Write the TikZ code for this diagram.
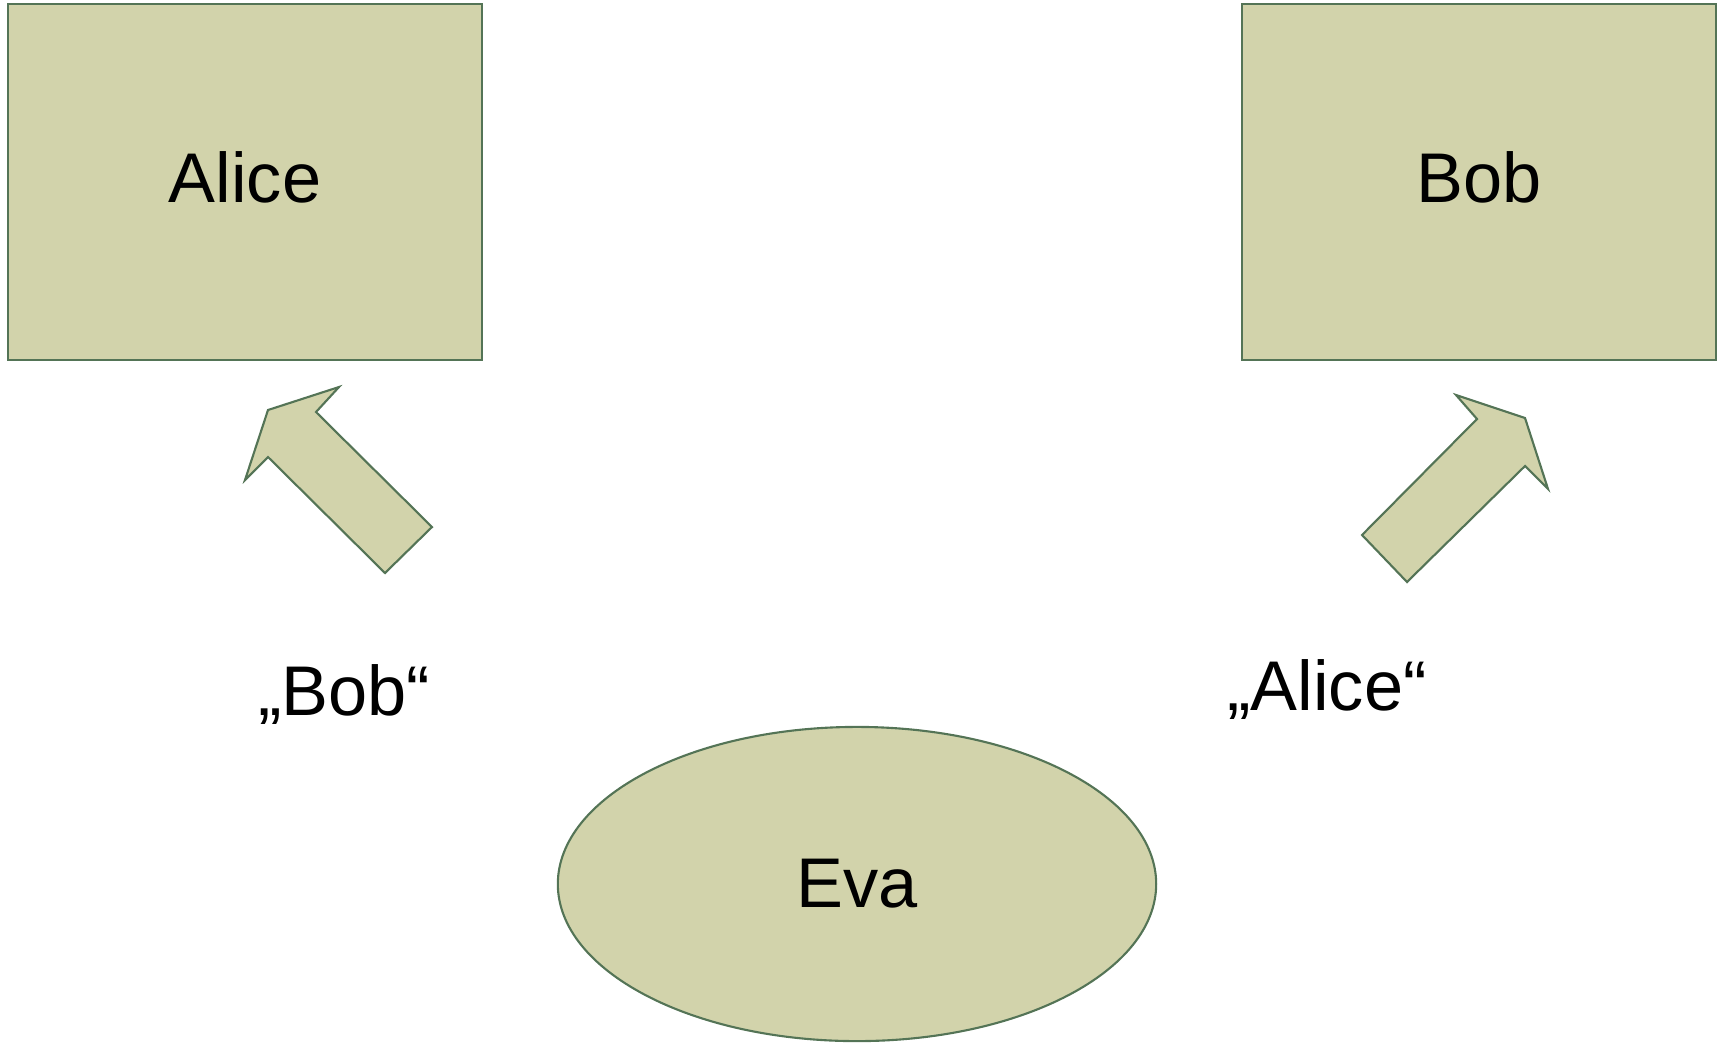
\documentclass[tikz,border=0pt]{standalone}
\usepackage{fontspec}
\setmainfont{Liberation Sans}
\usetikzlibrary{shapes.geometric}
\definecolor{olivefill}{RGB}{210,211,171}
\definecolor{olivedraw}{RGB}{84,116,86}
\begin{document}
\begin{tikzpicture}[x=0.01cm, y=-0.01cm,
    party/.style = {draw=olivedraw, fill=olivefill, line width=0.6pt, minimum width=4.74cm, minimum height=3.55cm, text depth=0.09cm},
    spy/.style = {draw=olivedraw, fill=olivefill, line width=0.6pt, ellipse, minimum width=5.98cm, minimum height=3.14cm},
    blockarrow/.style = {draw=olivedraw, fill=olivefill, line width=0.6pt, line join=miter},
    big/.style = {font=\fontsize{20}{24}\selectfont}]
    \useasboundingbox (0,0) rectangle (1719,1042);
    % Nodes
    \node[party, big] (alice) at (245,182) {Alice};
    \node[party, big] (bob) at (1479,182) {Bob};
    \node[spy, big] (eva) at (857,884) {Eva};
    \node[big] (fakebob) at (344,694) {„Bob“};
    \node[big] (fakealice) at (1327,689) {„Alice“};

    % Block arrows
    \draw[blockarrow] (385,573) -- (432,527) -- (316,412) -- (339,387) -- (268,410)
        -- (245,480) -- (268,457) -- cycle;
    \draw[blockarrow] (1362,535) -- (1407,582) -- (1525,466) -- (1548,489) -- (1525,418)
        -- (1456,395) -- (1477,419) -- cycle;
\end{tikzpicture}
\end{document}
